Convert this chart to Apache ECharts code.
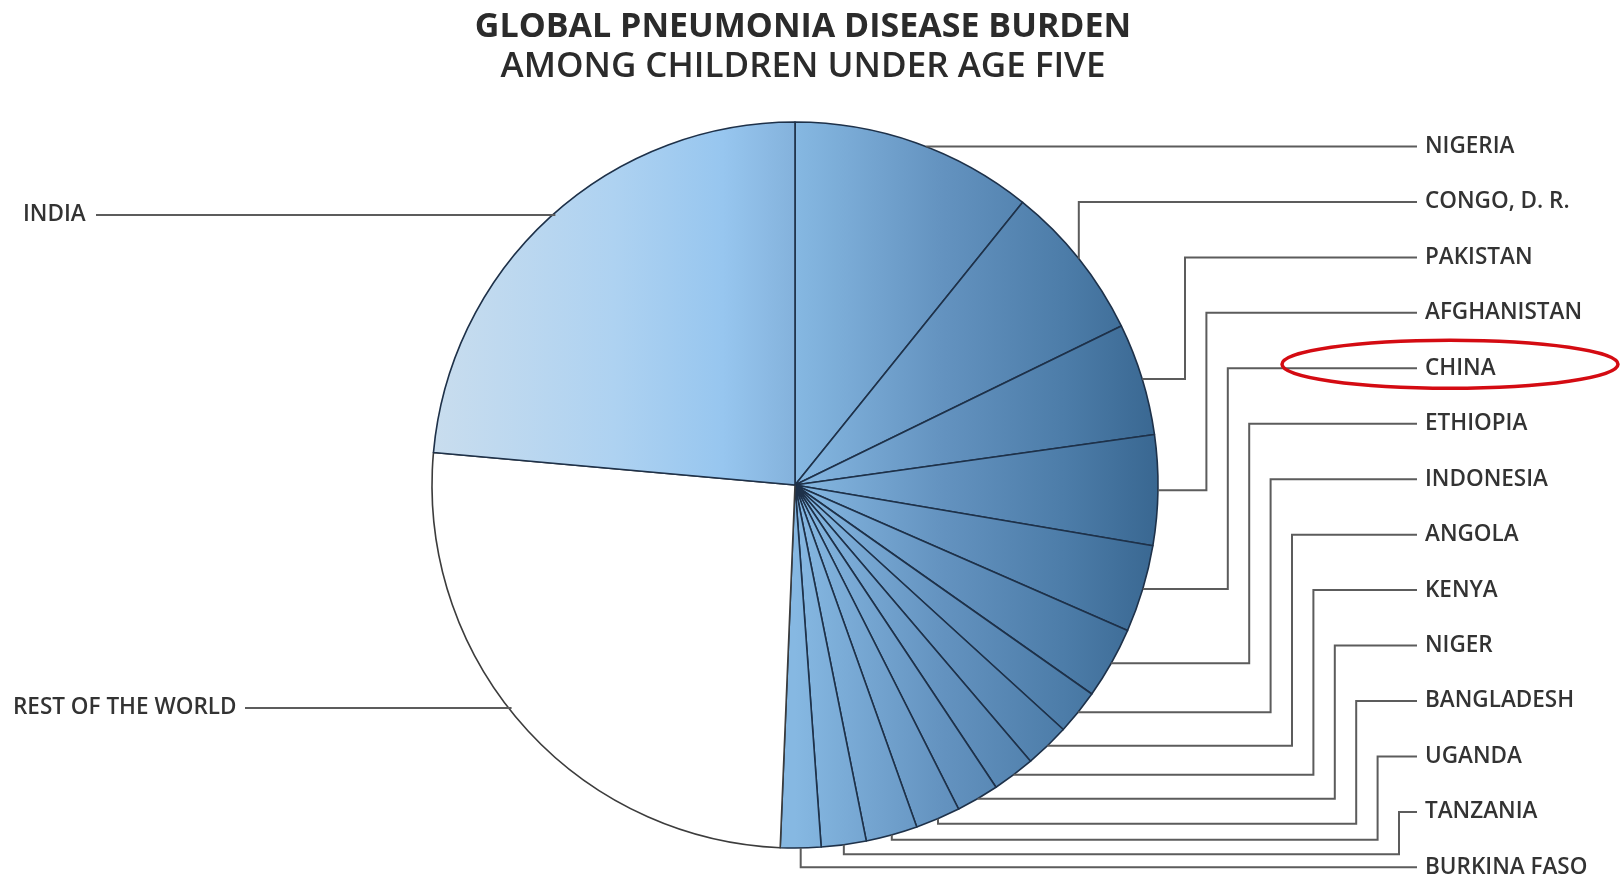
<!DOCTYPE html>
<html>
<head>
<meta charset="utf-8">
<script src="https://cdn.jsdelivr.net/npm/echarts@6/dist/echarts.min.js"></script>
<style>
  html, body { margin: 0; padding: 0; background: #ffffff; }
  #chart { width: 1620px; height: 877px; }
</style>
</head>
<body>
<div id="chart"></div>
<script>
// ---------- data ----------
const titleLines = ['GLOBAL PNEUMONIA DISEASE BURDEN', 'AMONG CHILDREN UNDER AGE FIVE'];
const categories = ['NIGERIA', 'CONGO, D. R.', 'PAKISTAN', 'AFGHANISTAN', 'CHINA', 'ETHIOPIA',
  'INDONESIA', 'ANGOLA', 'KENYA', 'NIGER', 'BANGLADESH', 'UGANDA', 'TANZANIA', 'BURKINA FASO',
  'REST OF THE WORLD', 'INDIA'];
// share of the global burden (%)
const shares = [10.8, 7.0, 5.0, 4.9, 3.9, 3.2, 2.0, 2.0, 1.9, 1.9, 2.0, 2.3, 2.0, 1.8, 25.8, 23.6];
const highlighted = 'CHINA';

// ---------- layout / style ----------
const CX = 795, CY = 485, R = 363;
const labelFont = { fontFamily: 'Open Sans', fontWeight: 600, fontSize: 22.5, fill: '#333333' };
const rightLabelX = 1425, rightLineEnd = 1417, firstLabelY = 146.5, labelStep = 55.45;
const elbowStart = 1185, elbowStep = 21.4;
const lineStyle = { stroke: '#5c5c5c', lineWidth: 2, fill: null };

const rightGrad = { type: 'linear', global: true, x: CX, y: 0, x2: CX + R, y2: 0,
  colorStops: [
    { offset: 0, color: '#86b8e2' },
    { offset: 0.4, color: '#6493c0' },
    { offset: 0.75, color: '#4c7ca8' },
    { offset: 1, color: '#396791' }
  ] };
const indiaGrad = { type: 'linear', global: true, x: CX - R, y: 0, x2: CX, y2: 0,
  colorStops: [
    { offset: 0, color: '#c9ddee' },
    { offset: 0.5, color: '#aed2f1' },
    { offset: 0.8, color: '#97c6ef' },
    { offset: 1, color: '#84b2dc' }
  ] };

const seriesData = categories.map((name, i) => {
  let color = rightGrad, border = '#1e3149';
  if (name === 'INDIA') color = indiaGrad;
  if (name === 'REST OF THE WORLD') { color = '#ffffff'; border = '#3c3c3c'; }
  return { name, value: shares[i], itemStyle: { color, borderColor: border, borderWidth: 1.6 } };
});

const chart = echarts.init(document.getElementById('chart'), null, { renderer: 'canvas' });
const option = {
  animation: false,
  backgroundColor: '#ffffff',
  title: titleLines.map((t, i) => ({
    text: t, left: 798, textAlign: 'center', top: (i === 0 ? 4 : 44),
    textStyle: { fontFamily: 'Open Sans', fontSize: i === 0 ? 34 : 35, fontWeight: i === 0 ? 700 : 600,
      color: '#2b2b2b', lineHeight: 36 }
  })),
  series: [{
    type: 'pie',
    center: [CX, CY],
    radius: R,
    startAngle: 90,
    clockwise: true,
    silent: true,
    avoidLabelOverlap: false,
    label: { show: false },
    labelLine: { show: false },
    emphasis: { disabled: true },
    data: seriesData
  }]
};
chart.setOption(option);

// ---------- leader lines & labels from the pie's own layout ----------
function sliceGeom(i) {
  try {
    const data = chart.getModel().getSeriesByIndex(0).getData();
    const l = data.getItemLayout(i);
    const mid = (l.startAngle + l.endAngle) / 2;
    return { cx: l.cx, cy: l.cy, r: l.r, mx: l.cx + l.r * Math.cos(mid), my: l.cy + l.r * Math.sin(mid) };
  } catch (e) {
    const total = shares.reduce((a, b) => a + b, 0);
    let acc = 0; for (let k = 0; k < i; k++) acc += shares[k];
    const mid = -Math.PI / 2 + (acc + shares[i] / 2) / total * Math.PI * 2;
    return { cx: CX, cy: CY, r: R, mx: CX + R * Math.cos(mid), my: CY + R * Math.sin(mid) };
  }
}
function edgeX(g, y, side) {
  const d = Math.sqrt(Math.max(0, g.r * g.r - (y - g.cy) * (y - g.cy)));
  return g.cx + side * d;
}

const graphics = [];
const nRight = categories.length - 2;
let prevLevel = null;
for (let i = 0; i < nRight; i++) {
  const g = sliceGeom(i);
  const ly = firstLabelY + i * labelStep;
  const ex = elbowStart + (i - 2) * elbowStep;
  let pts;
  if (i === 0) {
    pts = [[edgeX(g, ly, 1), ly], [rightLineEnd, ly]];
  } else if (i === 1) {
    pts = [[g.mx, g.my], [g.mx, ly], [rightLineEnd, ly]];
  } else if (i === nRight - 1) {
    pts = [[g.mx, g.my], [g.mx, ly], [rightLineEnd, ly]];
  } else if (g.my < g.cy + g.r * 0.87) {
    pts = [[g.mx, g.my], [ex, g.my], [ex, ly], [rightLineEnd, ly]];
    prevLevel = g.my;
  } else {
    const L = Math.max(g.my + 5, (prevLevel || g.my) + 14.5);
    prevLevel = L;
    pts = [[g.mx, g.my], [g.mx, L], [ex, L], [ex, ly], [rightLineEnd, ly]];
  }
  graphics.push({ type: 'polyline', silent: true, shape: { points: pts }, style: lineStyle, z: 5 });
  graphics.push({ type: 'text', x: rightLabelX, y: ly, silent: true,
    style: Object.assign({ text: categories[i], verticalAlign: 'middle', align: 'left' }, labelFont), z: 6 });
  if (categories[i] === highlighted) {
    graphics.push({ type: 'ellipse', silent: true,
      shape: { cx: rightLabelX + 25, cy: ly - 4, rx: 168, ry: 24 },
      style: { fill: null, stroke: '#d40b12', lineWidth: 3.5 }, z: 7 });
  }
}
// left labels: REST OF THE WORLD and INDIA
const leftSpecs = [
  { idx: categories.indexOf('INDIA'), y: 215, x: 23, lineStart: 96 },
  { idx: categories.indexOf('REST OF THE WORLD'), y: 708, x: 13, lineStart: 245 }
];
leftSpecs.forEach(s => {
  const g = sliceGeom(s.idx);
  const endX = edgeX(g, s.y, -1) + 3;
  graphics.push({ type: 'polyline', silent: true, shape: { points: [[s.lineStart, s.y], [endX, s.y]] }, style: lineStyle, z: 5 });
  graphics.push({ type: 'text', x: s.x, y: s.y, silent: true,
    style: Object.assign({ text: categories[s.idx], verticalAlign: 'middle', align: 'left' }, labelFont), z: 6 });
});
chart.setOption({ graphic: graphics });
</script>
</body>
</html>
